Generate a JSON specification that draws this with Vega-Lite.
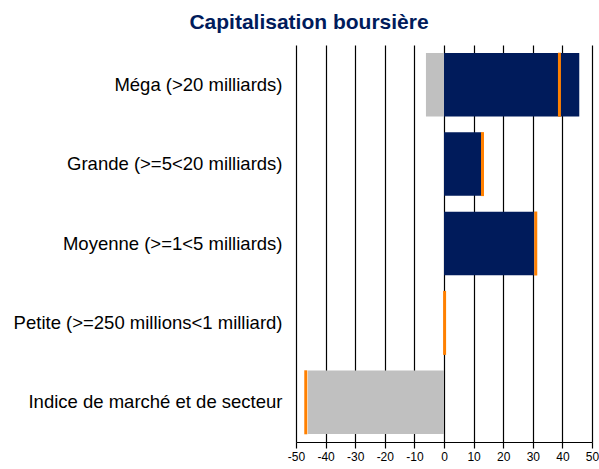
{
  "$schema": "https://vega.github.io/schema/vega-lite/v6.json",
  "autosize": {"type": "none"},
  "width": 296,
  "height": 397,
  "padding": {"left": 296, "top": 45, "right": 7, "bottom": 27},
  "background": "white",
  "config": {
    "font": "Liberation Sans",
    "view": {"stroke": null},
    "axisY": {
      "domain": false,
      "ticks": false,
      "grid": false,
      "labelPadding": 14,
      "labelFontSize": 18.5,
      "labelColor": "#000000",
      "labelFont": "Liberation Sans",
      "labelLimit": 320
    },
    "axisX": {
      "grid": true,
      "gridColor": "#000000",
      "gridWidth": 1.2,
      "domain": true,
      "domainColor": "#000000",
      "domainWidth": 1.2,
      "tickColor": "#000000",
      "tickWidth": 1.2,
      "tickSize": 6,
      "labelFontSize": 12,
      "labelColor": "#000000",
      "labelPadding": 3,
      "labelFont": "Liberation Sans",
      "labelOverlap": false,
      "labelFlush": false
    }
  },
  "title": {
    "text": "Capitalisation boursière",
    "font": "Liberation Sans",
    "fontSize": 21,
    "fontWeight": "bold",
    "color": "#001b5b",
    "anchor": "middle",
    "dx": -135,
    "offset": 12
  },
  "data": {
    "values": [
      {"categorie": "Méga (>20 milliards)", "positif": 45.7, "negatif": -6.1, "repere": 39.0},
      {"categorie": "Grande (>=5<20 milliards)", "positif": 12.6, "negatif": 0, "repere": 13.0},
      {"categorie": "Moyenne (>=1<5 milliards)", "positif": 30.5, "negatif": 0, "repere": 31.0},
      {"categorie": "Petite (>=250 millions<1 milliard)", "positif": 0, "negatif": 0, "repere": 0.2},
      {"categorie": "Indice de marché et de secteur", "positif": 0, "negatif": -46.0, "repere": -46.7}
    ]
  },
  "encoding": {
    "y": {
      "field": "categorie",
      "type": "nominal",
      "sort": null,
      "title": null,
      "scale": {"paddingInner": 0.2, "paddingOuter": 0.1}
    }
  },
  "layer": [
    {
      "mark": {"type": "bar", "color": "#001b5b"},
      "encoding": {
        "x": {
          "field": "positif",
          "type": "quantitative",
          "title": null,
          "scale": {"domain": [-50, 50], "nice": false},
          "axis": {
            "values": [-50, -40, -30, -20, -10, 0, 10, 20, 30, 40, 50],
            "labelExpr": "datum.value < 0 ? '-' + abs(datum.value) : '' + datum.value"
          }
        }
      }
    },
    {
      "mark": {"type": "bar", "color": "#c0c0c0"},
      "encoding": {
        "x": {
          "field": "negatif",
          "type": "quantitative",
          "title": null,
          "axis": {
            "values": [-50, -40, -30, -20, -10, 0, 10, 20, 30, 40, 50],
            "labelExpr": "datum.value < 0 ? '-' + abs(datum.value) : '' + datum.value"
          }
        }
      }
    },
    {
      "mark": {"type": "tick", "color": "#ff8000", "opacity": 1, "thickness": 3, "size": 64, "orient": "vertical"},
      "encoding": {
        "x": {
          "field": "repere",
          "type": "quantitative",
          "title": null,
          "axis": {
            "values": [-50, -40, -30, -20, -10, 0, 10, 20, 30, 40, 50],
            "labelExpr": "datum.value < 0 ? '-' + abs(datum.value) : '' + datum.value"
          }
        }
      }
    }
  ]
}
